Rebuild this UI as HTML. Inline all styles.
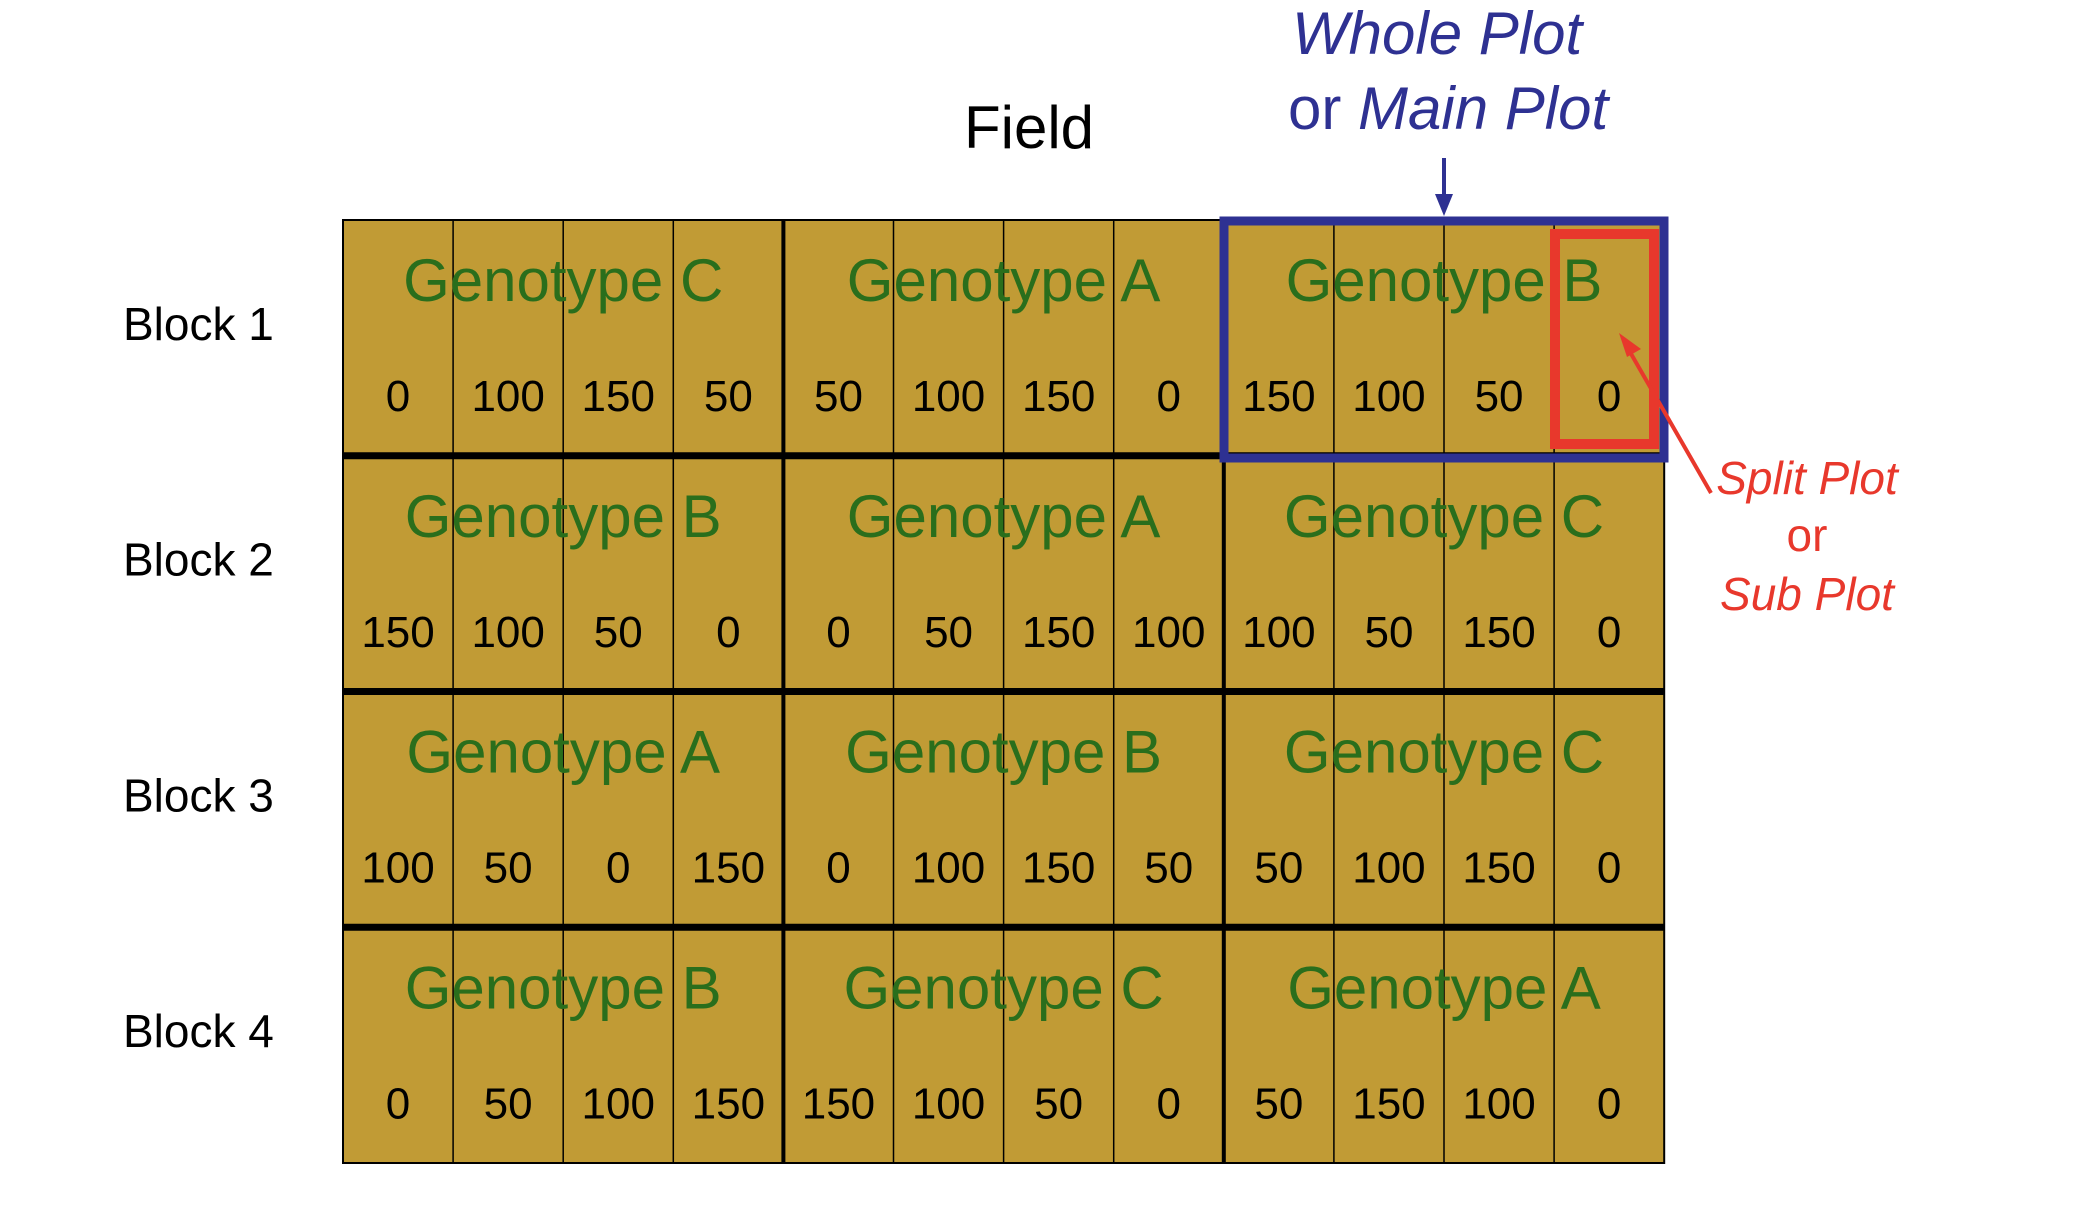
<!DOCTYPE html>
<html><head><meta charset="utf-8">
<style>
html,body{margin:0;padding:0;background:#fff;}
svg{display:block;font-family:"Liberation Sans",Arial,sans-serif;}
</style></head>
<body>
<svg id="chart" width="2081" height="1210" viewBox="0 0 2081 1210" xmlns="http://www.w3.org/2000/svg">
<text x="1029" y="148" font-size="60" text-anchor="middle" fill="#000">Field</text>
<text x="1292" y="54" font-size="60" font-style="italic" fill="#2e3192">Whole Plot</text>
<text x="1288" y="129" font-size="60" fill="#2e3192"><tspan>or </tspan><tspan font-style="italic">Main Plot</tspan></text>
<g id="grid"></g>
<g>
<line x1="1444" y1="158" x2="1444" y2="200" stroke="#2e3192" stroke-width="4"/>
<polygon points="1435,194 1453,194 1444,216" fill="#2e3192"/>
<rect x="1224" y="221" width="440" height="237" fill="none" stroke="#2e3192" stroke-width="9"/>
<rect x="1555" y="234" width="99" height="210" fill="none" stroke="#e8382c" stroke-width="10"/>
</g>
<g>
<line x1="1711" y1="493" x2="1630" y2="352" stroke="#e8382c" stroke-width="4"/>
<polygon points="1619,333 1641,349 1627,357" fill="#e8382c"/>
<text x="1807" y="494" font-size="46" font-style="italic" fill="#e8382c" text-anchor="middle">Split Plot</text>
<text x="1807" y="551" font-size="46" fill="#e8382c" text-anchor="middle">or</text>
<text x="1807" y="610" font-size="46" font-style="italic" fill="#e8382c" text-anchor="middle">Sub Plot</text>
</g>
</svg>
<script>
const blocks = ["Block 1","Block 2","Block 3","Block 4"];
const genotypes = [["C","A","B"],["B","A","C"],["A","B","C"],["B","C","A"]];
const rates = [
  [0,100,150,50, 50,100,150,0, 150,100,50,0],
  [150,100,50,0, 0,50,150,100, 100,50,150,0],
  [100,50,0,150, 0,100,150,50, 50,100,150,0],
  [0,50,100,150, 150,100,50,0, 50,150,100,0]
];
const NS = "http://www.w3.org/2000/svg";
const g = document.getElementById('grid');
const X0 = 343, Y0 = 220, CW = 110.1, RH = 235.75;
const nCols = rates[0].length;
function colX(i){ return X0 + i*CW; }
function rowY(r){ return Y0 + r*RH; }
function mk(tag, attrs){ const e = document.createElementNS(NS, tag); for (const k in attrs) e.setAttribute(k, attrs[k]); return e; }
const bg = mk('rect',{x:X0,y:Y0,width:CW*nCols,height:RH*blocks.length,fill:'#c19b35',stroke:'#000','stroke-width':2});


g.appendChild(bg);
for (let i=1;i<nCols;i++){
  const major = i%4===0;
  const l = mk('line',{x1:colX(i),x2:colX(i),y1:Y0,y2:rowY(blocks.length),stroke:'#000','stroke-width':major?4:1.5});
  
  
  g.appendChild(l);
}
for (let r=1;r<blocks.length;r++){
  const l = mk('line',{x1:X0,x2:colX(nCols),y1:rowY(r),y2:rowY(r),stroke:'#000','stroke-width':7});
  
  
  g.appendChild(l);
}
blocks.forEach((b,r)=>{
  const t = mk('text',{x:123,y:rowY(r)+RH/2+2,'font-size':46,fill:'#000'});
  t.textContent = b;
  
  
  g.appendChild(t);
  genotypes[r].forEach((gt,w)=>{
    const cx = colX(w*4) + CW*2;
    const tt = mk('text',{x:cx,y:rowY(r)+81,'font-size':60,fill:'#2a6e1c','text-anchor':'middle'});
    tt.textContent = 'Genotype ' + gt;
    
    
    g.appendChild(tt);
  });
  rates[r].forEach((v,c)=>{
    const nt = mk('text',{x:colX(c)+CW/2,y:rowY(r)+191,'font-size':44,fill:'#000','text-anchor':'middle'});
    nt.textContent = v;
    
    
    g.appendChild(nt);
  });
});
</script>
</body></html>
